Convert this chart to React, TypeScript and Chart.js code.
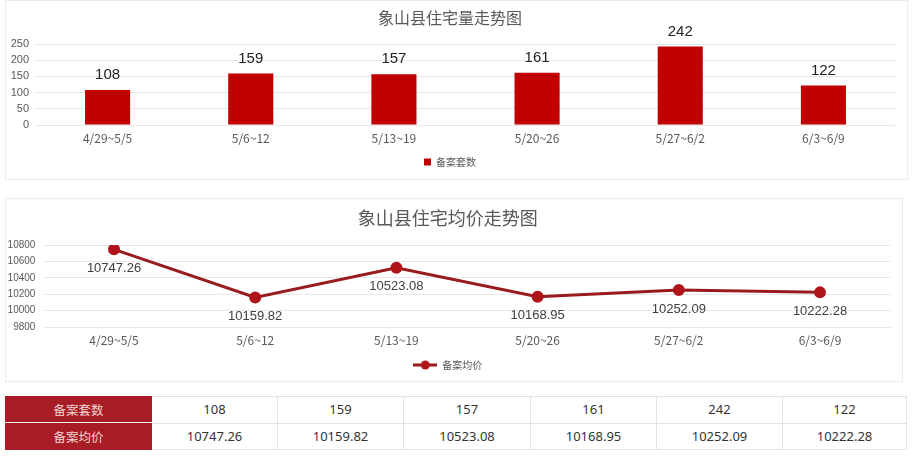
import React, { useEffect, useRef } from 'react';
import { Chart, registerables } from 'chart.js';

Chart.register(...registerables);

const categories = ['4/29~5/5', '5/6~12', '5/13~19', '5/20~26', '5/27~6/2', '6/3~6/9'];
const unitCounts = [108, 159, 157, 161, 242, 122];
const avgPrices = [10747.26, 10159.82, 10523.08, 10168.95, 10252.09, 10222.28];
const countTicks = [0, 50, 100, 150, 200, 250];
const priceTicks = [9800, 10000, 10200, 10400, 10600, 10800];
const countTitle = '象山县住宅量走势图';
const priceTitle = '象山县住宅均价走势图';
const countLabel = '备案套数';
const priceLabel = '备案均价';

const FONT = '"Noto Sans CJK SC", "Noto Sans", sans-serif';
const NUM_FONT = '"Liberation Sans", Arial, sans-serif';

const valueLabels = {
  id: 'valueLabels',
  afterDatasetsDraw(chart: any, _args: any, opts: any) {
    const { ctx } = chart;
    const meta = chart.getDatasetMeta(0);
    const data = chart.data.datasets[0].data as number[];
    ctx.save();
    ctx.font = opts.font;
    ctx.fillStyle = opts.color;
    ctx.textAlign = 'center';
    ctx.textBaseline = 'middle';
    meta.data.forEach((el: any, i: number) => {
      const { x, y } = el.getProps(['x', 'y'], true);
      ctx.fillText(data[i].toFixed(opts.decimals), x, y + opts.offset);
    });
    ctx.restore();
  },
};

function BarChart() {
  const ref = useRef<HTMLCanvasElement>(null);
  useEffect(() => {
    const chart = new Chart(ref.current!, {
      type: 'bar',
      data: {
        labels: categories,
        datasets: [
          {
            label: countLabel,
            data: unitCounts,
            backgroundColor: '#C00000',
            borderWidth: 0,
            categoryPercentage: 1,
            barPercentage: 0.315,
          },
        ],
      },
      plugins: [valueLabels],
      options: {
        animation: false,
        responsive: true,
        maintainAspectRatio: false,
        layout: { padding: { left: 0, right: 13, top: 0, bottom: 3 } },
        plugins: {
          title: {
            display: true,
            text: countTitle,
            color: '#595959',
            font: { family: FONT, size: 16, weight: 'normal' },
            padding: { top: 8, bottom: 16.8 },
          },
          legend: {
            position: 'bottom',
            labels: {
              color: '#595959',
              font: { family: FONT, size: 10 },
              boxWidth: 7,
              boxHeight: 7,
              padding: 8,
            },
          },
          tooltip: { enabled: false },
          valueLabels: { font: `15px ${NUM_FONT}`, color: '#222', offset: -15, decimals: 0 },
        } as any,
        scales: {
          x: {
            grid: { display: false, drawTicks: false },
            border: { display: false },
            ticks: { color: '#595959', font: { family: FONT, size: 12 }, padding: 6.4, maxRotation: 0 },
            afterFit: (s: any) => {
              s.height = 24;
            },
          },
          y: {
            min: countTicks[0],
            max: countTicks[countTicks.length - 1],
            ticks: {
              stepSize: countTicks[1] - countTicks[0],
              autoSkip: false,
              color: '#595959',
              font: { family: NUM_FONT, size: 11 },
              padding: 7,
              callback: (v: any) => String(v),
            },
            grid: { color: '#e8e8e8', drawTicks: false },
            border: { display: false },
            afterFit: (s: any) => {
              s.width = 31;
            },
          },
        },
      },
    });
    return () => chart.destroy();
  }, []);
  return <canvas ref={ref} />;
}

function LineChart() {
  const ref = useRef<HTMLCanvasElement>(null);
  useEffect(() => {
    const icon = document.createElement('canvas');
    icon.width = 24;
    icon.height = 10;
    const ic = icon.getContext('2d')!;
    ic.strokeStyle = '#9A1B1E';
    ic.lineWidth = 3;
    ic.beginPath();
    ic.moveTo(0, 5);
    ic.lineTo(24, 5);
    ic.stroke();
    ic.fillStyle = '#B0141B';
    ic.beginPath();
    ic.arc(12, 5, 4.5, 0, Math.PI * 2);
    ic.fill();

    const chart = new Chart(ref.current!, {
      type: 'line',
      data: {
        labels: categories,
        datasets: [
          {
            label: priceLabel,
            data: avgPrices,
            borderColor: '#9A1B1E',
            borderWidth: 3,
            pointRadius: 4.5,
            pointBackgroundColor: '#B0141B',
            pointBorderColor: '#B0141B',
            tension: 0,
          },
        ],
      },
      plugins: [valueLabels],
      options: {
        animation: false,
        responsive: true,
        maintainAspectRatio: false,
        layout: { padding: { left: 0, right: 12.4, top: 0, bottom: 2 } },
        plugins: {
          title: {
            display: true,
            text: priceTitle,
            color: '#595959',
            font: { family: FONT, size: 18, weight: 'normal' },
            padding: { top: 9, bottom: 16.4 },
          },
          legend: {
            position: 'bottom',
            labels: {
              color: '#595959',
              font: { family: FONT, size: 10 },
              usePointStyle: true,
              pointStyle: icon as any,
              pointStyleWidth: 24,
              boxHeight: 10,
              padding: 8,
            },
          },
          tooltip: { enabled: false },
          valueLabels: { font: `13px ${NUM_FONT}`, color: '#404040', offset: 19, decimals: 2 },
        } as any,
        scales: {
          x: {
            offset: true,
            grid: { display: false, drawTicks: false },
            border: { display: false },
            ticks: { color: '#595959', font: { family: FONT, size: 12 }, padding: 6.4, maxRotation: 0 },
            afterFit: (s: any) => {
              s.height = 25;
            },
          },
          y: {
            min: priceTicks[0],
            max: priceTicks[priceTicks.length - 1],
            ticks: {
              stepSize: priceTicks[1] - priceTicks[0],
              autoSkip: false,
              color: '#595959',
              font: { family: NUM_FONT, size: 10 },
              padding: 8,
              callback: (v: any) => String(v),
            },
            grid: { color: '#e8e8e8', drawTicks: false },
            border: { display: false },
            afterFit: (s: any) => {
              s.width = 38.4;
            },
          },
        },
      },
    });
    return () => chart.destroy();
  }, []);
  return <canvas ref={ref} />;
}

const colLefts = [5, 152, 278, 404, 531, 657, 783, 907];

export default function App() {
  const rows: [string, string[]][] = [
    [countLabel, unitCounts.map((v) => String(v))],
    [priceLabel, avgPrices.map((v) => v.toFixed(2))],
  ];
  return (
    <div style={{ position: 'absolute', left: 0, top: 0, width: 913, height: 456, background: '#fff', overflow: 'hidden' }}>
      <div style={{ position: 'absolute', left: 5, top: 0, width: 901, height: 178, border: '1px solid #ececec' }} />
      <div style={{ position: 'absolute', left: 5, top: 0, width: 903, height: 180 }}>
        <BarChart />
      </div>
      <div style={{ position: 'absolute', left: 5, top: 198, width: 896, height: 182, border: '1px solid #ececec' }} />
      <div style={{ position: 'absolute', left: 5, top: 198, width: 898, height: 184 }}>
        <LineChart />
      </div>
      {rows.map(([head, vals], r) => (
        <React.Fragment key={head}>
          <div
            style={{
              position: 'absolute',
              left: colLefts[0],
              top: 396 + r * 27,
              width: colLefts[1] - colLefts[0],
              height: r === 0 ? 26 : 27,
              background: '#A81D25',
              color: '#F0D4D4',
              fontFamily: FONT,
              fontSize: 12.5,
              display: 'flex',
              alignItems: 'center',
              justifyContent: 'center',
              borderBottom: r === 0 ? '1px solid #f2f2f2' : 'none',
            }}
          >
            {head}
          </div>
          {vals.map((v, i) => (
            <div
              key={i}
              style={{
                position: 'absolute',
                left: colLefts[i + 1],
                top: 396 + r * 27,
                width: colLefts[i + 2] - colLefts[i + 1],
                height: 27,
                boxSizing: 'border-box',
                borderRight: '1px solid #e2e2e2',
                borderTop: '1px solid #e2e2e2',
                borderBottom: r === 1 ? '1px solid #e2e2e2' : 'none',
                color: '#333',
                fontFamily: '"Noto Sans", sans-serif',
                fontSize: 13,
                display: 'flex',
                alignItems: 'center',
                justifyContent: 'center',
                paddingBottom: 2,
              }}
            >
              {v}
            </div>
          ))}
        </React.Fragment>
      ))}
    </div>
  );
}
